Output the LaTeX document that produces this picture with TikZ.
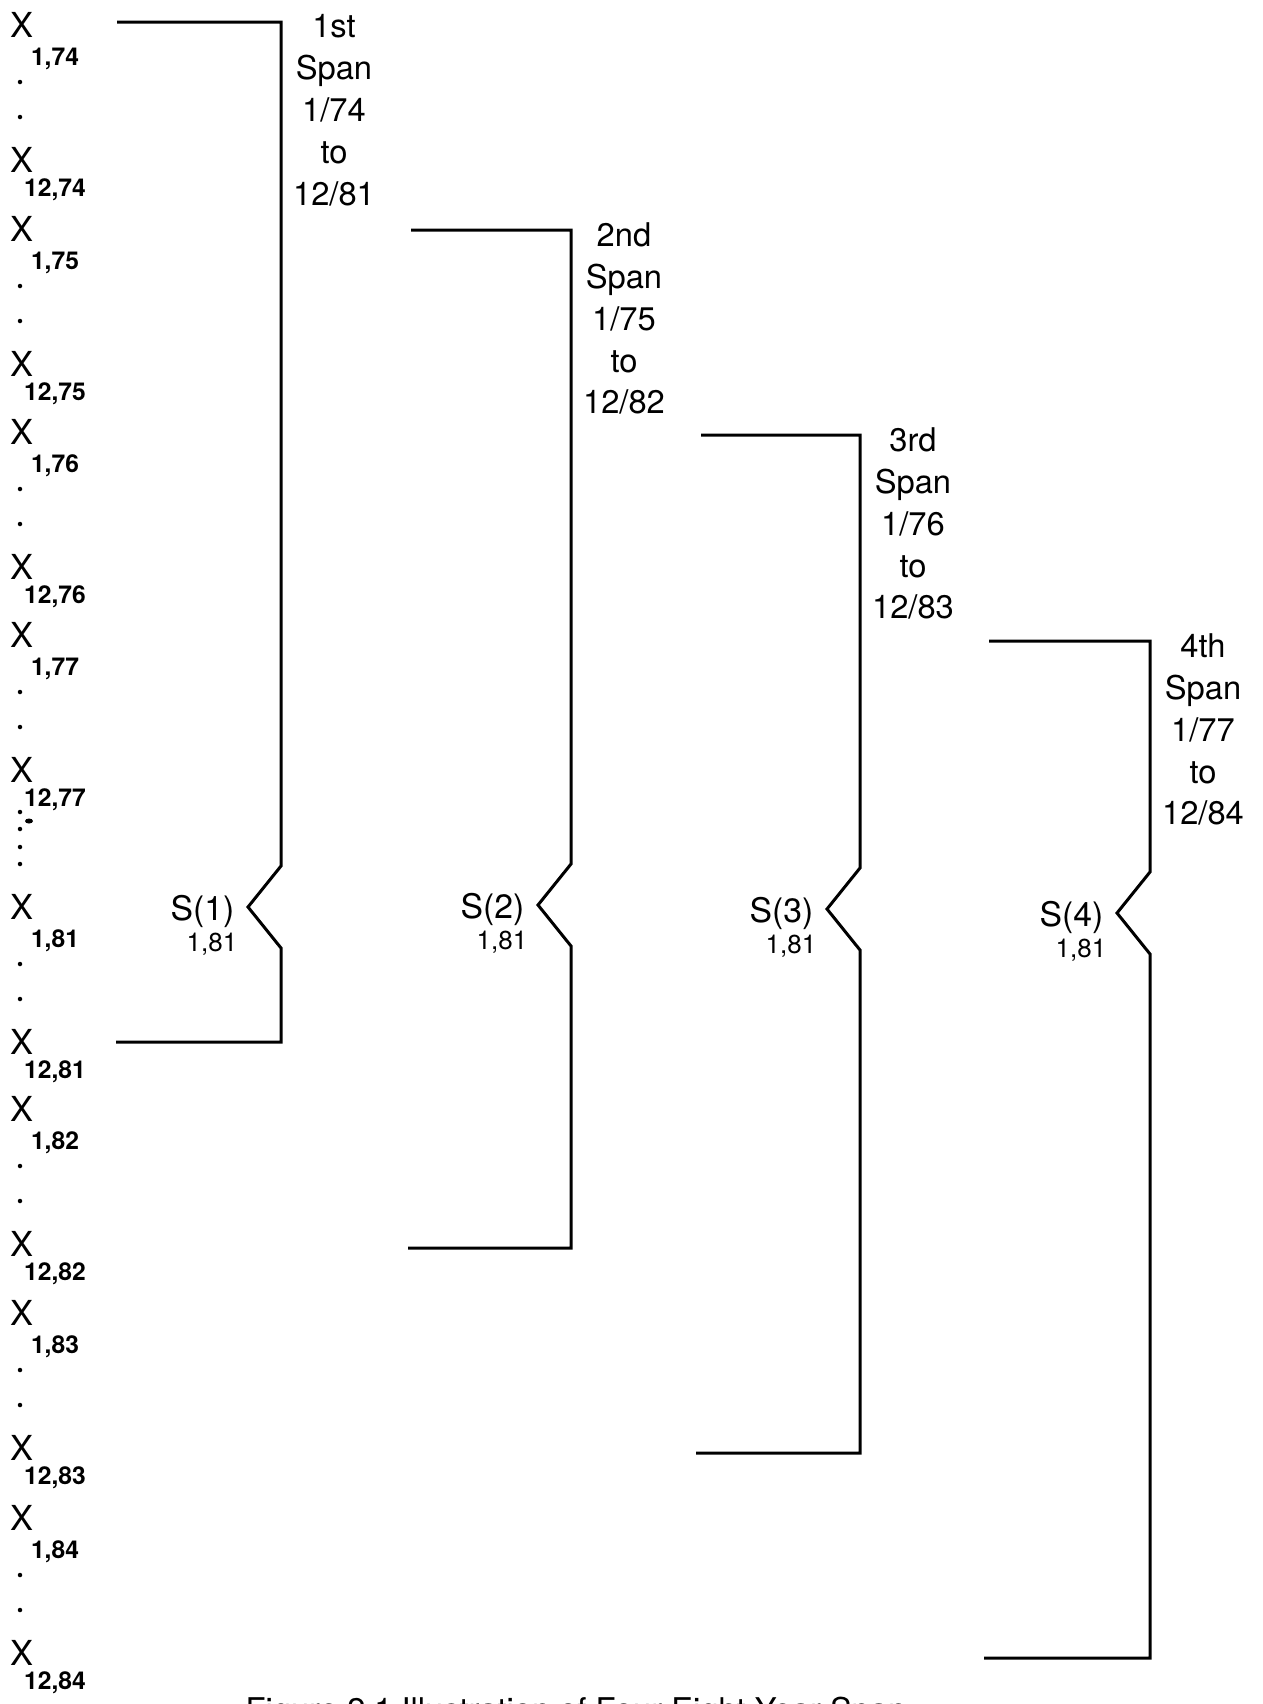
\documentclass[tikz,border=0pt]{standalone}
\usepackage{fontspec}
\setmainfont{TeX Gyre Heros}
\usetikzlibrary{positioning,calc,shapes.geometric}

\begin{document}
\begin{tikzpicture}[
    x=0.1mm, y=-0.1mm,
    obsVar/.style={inner sep=0pt, font=\fontsize{9.8}{11}\selectfont},
    obsIndex/.style={inner sep=0pt, font=\fontsize{7}{8}\selectfont\bfseries},
    gapDot/.style={circle, fill, inner sep=0pt, minimum size=0.45mm},
    spanLabel/.style={inner sep=0pt, anchor=north, align=center,
        font=\fontsize{9.3}{11.9}\selectfont},
    sumVar/.style={inner sep=0pt, anchor=base east, font=\fontsize{9.6}{11}\selectfont},
    sumIndex/.style={inner sep=0pt, anchor=base east, font=\fontsize{7.4}{8}\selectfont},
    bracket/.style={line width=0.3mm, line join=miter},
    caption/.style={inner sep=0pt, anchor=base, font=\fontsize{9.3}{11}\selectfont}
]
    \useasboundingbox (0,0) rectangle (1262,1704);

    % monthly observations, one block per year
    \foreach \yr/\base in {74/25, 75/229, 76/432, 77/635, 81/907, 82/1109, 83/1313, 84/1518} {
        \node[obsVar] (xa\yr) at (22,\base) {X};
        \node[obsIndex] (ia\yr) at (55,\base+34) {1,\yr};
        \node[gapDot] (da\yr) at (20,\base+57) {};
        \node[gapDot] (db\yr) at (20,\base+92) {};
        \node[obsVar] (xb\yr) at (22,\base+135) {X};
        \node[obsIndex] (ib\yr) at (55,\base+165) {12,\yr};
    }
    % skipped years 78--80
    \foreach \k/\yy in {1/812, 2/829, 3/847, 4/864} {
        \node[gapDot] (skip\k) at (20,\yy) {};
    }
    \node[ellipse, fill, inner sep=0pt, minimum width=0.8mm, minimum height=0.5mm] (blot) at (29,821) {};

    % eight year spans
    \foreach \k/\ord/\lft/\blft/\rgt/\tp/\bt/\nt in {
        1/1st/117/116/281/22/1042/907,
        2/2nd/411/408/571/230/1248/905,
        3/3rd/701/696/860/435/1453/909,
        4/4th/989/984/1150/641/1658/913} {
        \pgfmathtruncatemacro{\yfrom}{73+\k}
        \pgfmathtruncatemacro{\yto}{80+\k}
        \coordinate (top\k) at (\lft,\tp);
        \coordinate (bot\k) at (\blft,\bt);
        \coordinate (tip\k) at (\rgt-33,\nt);
        \draw[bracket] (top\k) -- (\rgt,\tp) -- (\rgt,\nt-41) -- (tip\k)
            -- (\rgt,\nt+41) -- (\rgt,\bt) -- (bot\k);
        \node[spanLabel] (span\k) at (\rgt+53,\tp-8) {\ord\\Span\\1/\yfrom\\to\\12/\yto};
        \node[sumVar] (sum\k) at ($(tip\k)+(-13,13)$) {S(\k)};
        \node[sumIndex] (sumi\k) at ($(tip\k)+(-10,44)$) {1,81};
    }

    \node[caption] (cap) at (576,1721) {Figure 2.1 Illustration of Four Eight Year Span};
\end{tikzpicture}
\end{document}
